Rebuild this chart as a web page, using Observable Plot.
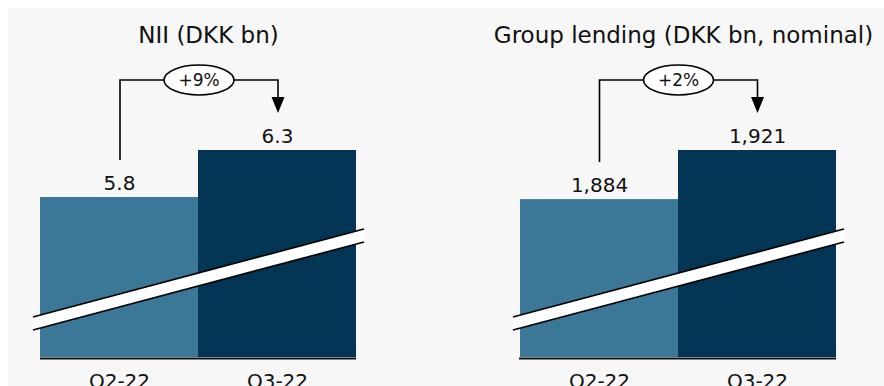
<!DOCTYPE html>
<html><head><meta charset="utf-8">
<script src="https://cdn.jsdelivr.net/npm/d3@7"></script>
<script src="https://cdn.jsdelivr.net/npm/@observablehq/plot@0.6"></script>
<style>
html,body{margin:0;padding:0;background:#fff;overflow:hidden}
#wrap{position:absolute;left:8px;top:8px;width:876px;height:378px;background:#f7f7f7;display:flex}
#wrap svg{display:block;background:transparent;overflow:visible}
</style></head><body><div id="wrap"></div>
<script>
const quarters = ["Q2-22", "Q3-22"];
const niiValues = [5.8, 6.3];
const lendingValues = [1884, 1921];
const niiLabels = ["5.8", "6.3"];
const lendingLabels = ["1,884", "1,921"];
const changeLabels = ["+9%", "+2%"];
const titles = ["NII (DKK bn)", "Group lending (DKK bn, nominal)"];
const barColors = ["#3b7898", "#023654"];
// truncated (broken) value axes
const axisDomains = [[4.1, 6.3], [1765, 1921]];

const FONT = "'DejaVu Sans', sans-serif";

function panel(i, values, labels, ml, mr, titleDx, xNudge) {
  const data = quarters.map((q, j) => ({q, v: values[j], label: labels[j]}));
  const domain = axisDomains[i];
  const base = domain[0];

  const breakMark = (index, scales) => {
    const sx = scales.x, sy = scales.y;
    const bw = sx.bandwidth();
    const x0 = sx(quarters[0]) - 7, x1 = sx(quarters[1]) + bw + 8;
    const yb = sy(base);
    const t0 = yb - 40, t1 = yb - 128, th = 13;
    const g = d3.create("svg:g");
    g.append("path").attr("d", `M${x0},${t0}L${x1},${t1}L${x1},${t1 + th}L${x0},${t0 + th}Z`).attr("fill", "#fff");
    g.append("path").attr("d", `M${x0},${t0}L${x1},${t1}M${x0},${t0 + th}L${x1},${t1 + th}`)
      .attr("stroke", "#000").attr("stroke-width", 1.7).attr("fill", "none");
    return g.node();
  };

  const connector = (index, scales) => {
    const sx = scales.x, sy = scales.y;
    const bw = sx.bandwidth();
    const xa = sx(quarters[0]) + bw / 2 + xNudge, xb = sx(quarters[1]) + bw / 2 + xNudge;
    const ya = sy(values[0]), yb = sy(values[1]);
    const yc = Math.min(ya, yb) - 70;
    const xm = (xa + xb) / 2, rx = 35, ry = 15;
    const tip = yb - 37, ah = 16, aw = 6.5;
    const g = d3.create("svg:g");
    g.append("path")
      .attr("d", `M${xa},${ya - 37}V${yc}H${xm - rx}M${xm + rx},${yc}H${xb}V${tip - ah + 1}`)
      .attr("stroke", "#000").attr("stroke-width", 1.6).attr("fill", "none");
    g.append("path").attr("d", `M${xb - aw},${tip - ah}L${xb + aw},${tip - ah}L${xb},${tip}Z`).attr("fill", "#000");
    g.append("ellipse").attr("cx", xm).attr("cy", yc).attr("rx", rx).attr("ry", ry)
      .attr("fill", "#fff").attr("stroke", "#000").attr("stroke-width", 1.6);
    g.append("text").attr("x", xm).attr("y", yc).attr("dy", "0.36em").attr("text-anchor", "middle")
      .attr("font-family", FONT).attr("font-size", 17).attr("fill", "#111").text(changeLabels[i]);
    return g.node();
  };

  return Plot.plot({
    width: 438, height: 378,
    marginLeft: ml, marginRight: mr, marginTop: 0, marginBottom: 29,
    style: {background: "transparent", fontFamily: FONT, fontSize: "20px", color: "#111", overflow: "visible"},
    x: {domain: quarters, padding: 0, label: null, tickSize: 0, tickPadding: 16},
    y: {domain, range: [349, 142], axis: null},
    color: {domain: quarters, range: barColors},
    marks: [
      Plot.barY(data, {x: "q", y1: () => base, y2: "v", fill: "q"}),
      breakMark,
      Plot.ruleY([base], {stroke: "#111", strokeWidth: 2, dy: 1}),
      Plot.text(data, {x: "q", y: "v", text: "label", lineAnchor: "bottom", dy: -8, fontSize: 20, fill: "#111"}),
      connector,
      Plot.text([titles[i]], {frameAnchor: "top", lineAnchor: "middle", dy: 27, dx: titleDx, fontSize: 23, fill: "#111"})
    ]
  });
}

const wrap = document.getElementById("wrap");
wrap.append(panel(0, niiValues, niiLabels, 32, 90, 10, 1));
wrap.append(panel(1, lendingValues, lendingLabels, 73, 48, 5.5, 0.5));
</script></body></html>
